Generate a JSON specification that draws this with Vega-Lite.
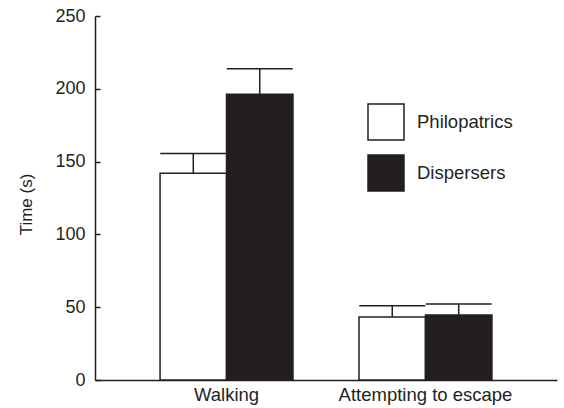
{
  "$schema": "https://vega.github.io/schema/vega-lite/v6.json",
  "width": 462,
  "height": 364,
  "autosize": "none",
  "padding": {"left": 95, "top": 16, "right": 7, "bottom": 28},
  "background": "white",
  "config": {
    "view": {"stroke": null},
    "font": "Liberation Sans",
    "axis": {"domainColor": "#231f20", "domainWidth": 1.5, "tickColor": "#231f20", "tickWidth": 1.5, "labelColor": "#231f20", "titleColor": "#231f20", "grid": false}
  },
  "data": {
    "values": [
      {"behaviour": "Walking", "group": "Philopatrics", "time": 142, "upper": 155.6},
      {"behaviour": "Walking", "group": "Dispersers", "time": 196.2, "upper": 213.8},
      {"behaviour": "Attempting to escape", "group": "Philopatrics", "time": 43.3, "upper": 51.0},
      {"behaviour": "Attempting to escape", "group": "Dispersers", "time": 44.6, "upper": 52.2}
    ]
  },
  "encoding": {
    "x": {
      "field": "behaviour",
      "type": "nominal",
      "sort": ["Walking", "Attempting to escape"],
      "scale": {"paddingInner": 0.332, "paddingOuter": 0.327},
      "axis": {"title": null, "labelAngle": 0, "ticks": false, "labelFontSize": 18.5, "labelPadding": 5}
    },
    "xOffset": {
      "field": "group",
      "type": "nominal",
      "sort": ["Philopatrics", "Dispersers"],
      "scale": {"paddingInner": 0, "paddingOuter": 0}
    }
  },
  "layer": [
    {
      "mark": {"type": "bar", "stroke": "#231f20", "strokeWidth": 1.5},
      "encoding": {
        "y": {
          "field": "time",
          "type": "quantitative",
          "scale": {"domain": [0, 250], "nice": false},
          "axis": {"title": "Time (s)", "titleFontSize": 17, "titleFontWeight": "normal", "titlePadding": 19, "titleY": 188, "values": [0, 50, 100, 150, 200, 250], "labelFontSize": 18, "tickSize": -5, "labelPadding": 15}
        },
        "fill": {
          "field": "group",
          "type": "nominal",
          "sort": ["Philopatrics", "Dispersers"],
          "scale": {"domain": ["Philopatrics", "Dispersers"], "range": ["white", "#231f20"]},
          "legend": {
            "title": null,
            "orient": "none",
            "legendX": 272,
            "legendY": 87,
            "symbolType": "square",
            "symbolSize": 1296,
            "symbolStrokeColor": "#231f20",
            "symbolStrokeWidth": 1.5,
            "symbolOpacity": 1,
            "labelFontSize": 18.5,
            "labelColor": "#231f20",
            "labelOffset": 12,
            "rowPadding": 9
          }
        }
      }
    },
    {
      "mark": {"type": "rule", "color": "#231f20", "strokeWidth": 1.5},
      "encoding": {
        "y": {"field": "time", "type": "quantitative"},
        "y2": {"field": "upper"}
      }
    },
    {
      "mark": {"type": "tick", "color": "#231f20", "size": 66, "thickness": 1.5, "opacity": 1},
      "encoding": {
        "y": {"field": "upper", "type": "quantitative"}
      }
    }
  ]
}
